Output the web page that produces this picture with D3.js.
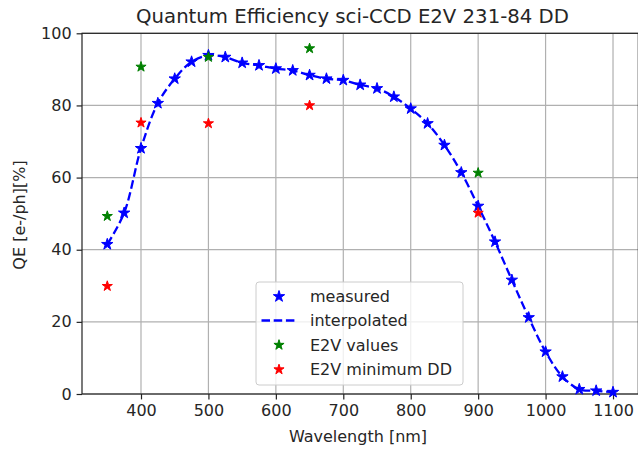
<!DOCTYPE html>
<html>
<head>
<meta charset="utf-8">
<script src="https://cdn.jsdelivr.net/npm/d3@7"></script>
<style>
  html, body { margin: 0; padding: 0; background: #fff; }
  svg { display: block; font-family: "DejaVu Sans", sans-serif; }
</style>
</head>
<body>
<svg id="chart" width="638" height="451"></svg>
<script>
const titleText = "Quantum Efficiency sci-CCD E2V 231-84 DD";
const xLabel = "Wavelength [nm]";
const yLabel = "QE [e-/ph][%]";

const measuredWl = [350, 375, 400, 425, 450, 475, 500, 525, 550, 575, 600, 625, 650, 675, 700, 725, 750, 775, 800, 825, 850, 875, 900, 925, 950, 975, 1000, 1025, 1050, 1075, 1100];
const measuredQE = [41.5, 50.2, 68.1, 80.6, 87.4, 92.1, 93.9, 93.4, 91.8, 91.1, 90.2, 89.7, 88.4, 87.4, 87.0, 85.7, 84.7, 82.4, 79.1, 75.0, 69.0, 61.4, 52.1, 42.2, 31.6, 21.2, 11.7, 4.8, 1.3, 0.9, 0.5];

const e2vWl = [350, 400, 500, 650, 900];
const e2vQE = [49.3, 90.7, 93.4, 95.8, 61.3];

const e2vMinWl = [350, 400, 500, 650, 900];
const e2vMinQE = [29.9, 75.2, 75.0, 80.0, 50.2];

const xTicks = [400, 500, 600, 700, 800, 900, 1000, 1100];
const yTicks = [0, 20, 40, 60, 80, 100];

const legendLabels = ["measured", "interpolated", "E2V values", "E2V minimum DD"];

const svg = d3.select("#chart");
const m = {left: 82, right: 638.3, top: 33.3, bottom: 394};

const x = d3.scaleLinear().domain([312.5, 1137.5]).range([m.left, m.right]);
const y = d3.scaleLinear().domain([0, 100]).range([m.bottom, m.top]);

// grid
const grid = svg.append("g");
grid.selectAll(".gx").data(xTicks).enter().append("line")
  .attr("x1", d => x(d)).attr("x2", d => x(d))
  .attr("y1", m.top).attr("y2", m.bottom)
  .attr("stroke", "#b0b0b0").attr("stroke-width", 1.2);
grid.selectAll(".gy").data(yTicks).enter().append("line")
  .attr("x1", m.left).attr("x2", m.right)
  .attr("y1", d => y(d)).attr("y2", d => y(d))
  .attr("stroke", "#b0b0b0").attr("stroke-width", 1.2);

// axes
const fs = 16;
const xAxis = svg.append("g").attr("transform", `translate(0,${m.bottom})`)
  .call(d3.axisBottom(x).tickValues(xTicks).tickFormat(d3.format("d")).tickSize(5.4).tickPadding(5).tickSizeOuter(0));
const yAxis = svg.append("g").attr("transform", `translate(${m.left},0)`)
  .call(d3.axisLeft(y).tickValues(yTicks).tickFormat(d3.format("d")).tickSize(5.4).tickPadding(5).tickSizeOuter(0));
[xAxis, yAxis].forEach(a => {
  a.select(".domain").remove();
  a.selectAll("line").attr("stroke", "#222").attr("stroke-width", 1.2);
  a.selectAll("text").attr("fill", "#262626").style("font-size", fs + "px").style("font-family", "DejaVu Sans");
});

// spines
svg.append("rect").attr("x", m.left).attr("y", m.top)
  .attr("width", m.right - m.left).attr("height", m.bottom - m.top)
  .attr("fill", "none").attr("stroke", "#222").attr("stroke-width", 1.2);

// interpolated line
const line = d3.line().x(d => x(d[0])).y(d => y(d[1])).curve(d3.curveCatmullRom.alpha(0.5));
const measured = measuredWl.map((w, i) => [w, measuredQE[i]]);
svg.append("path").datum(measured).attr("d", line)
  .attr("fill", "none").attr("stroke", "#0000ff").attr("stroke-width", 2.3)
  .attr("stroke-dasharray", "8.5,3.7");

const star = (size) => d3.symbol().type(d3.symbolStar).size(size);

function drawStars(wl, qe, color, size) {
  svg.append("g").selectAll("path").data(wl.map((w, i) => [w, qe[i]])).enter().append("path")
    .attr("transform", d => `translate(${x(d[0])},${y(d[1])})`)
    .attr("d", star(size)())
    .attr("fill", color).attr("stroke", color).attr("stroke-width", 1).attr("stroke-linejoin", "round");
}
drawStars(measuredWl, measuredQE, "#0000ff", 40);
drawStars(e2vWl, e2vQE, "#008000", 32);
drawStars(e2vMinWl, e2vMinQE, "#ff0000", 32);

// title & labels
svg.append("text").attr("x", 352.5).attr("y", 23).attr("text-anchor", "middle")
  .style("font-size", "19.7px").attr("fill", "#262626").text(titleText);
svg.append("text").attr("x", 358).attr("y", 442).attr("text-anchor", "middle")
  .style("font-size", fs + "px").attr("fill", "#262626").text(xLabel);
svg.append("text").attr("transform", `translate(25,215) rotate(-90)`).attr("text-anchor", "middle")
  .style("font-size", fs + "px").attr("fill", "#262626").text(yLabel);

// legend
const lg = svg.append("g");
lg.append("rect").attr("x", 256).attr("y", 282).attr("width", 207).attr("height", 103).attr("rx", 3)
  .attr("fill", "#fff").attr("fill-opacity", 0.8).attr("stroke", "#cccccc").attr("stroke-width", 1);
const rowsY = [296.5, 320.5, 345, 369.5];
const legColors = ["#0000ff", "#0000ff", "#008000", "#ff0000"];
legendLabels.forEach((lab, i) => {
  const yy = rowsY[i];
  if (i === 1) {
    lg.append("line").attr("x1", 261.5).attr("x2", 295.5).attr("y1", yy).attr("y2", yy)
      .attr("stroke", "#0000ff").attr("stroke-width", 2.3).attr("stroke-dasharray", "8.5,3.7");
  } else {
    lg.append("path").attr("transform", `translate(279,${yy})`)
      .attr("d", star(i === 0 ? 40 : 32)()).attr("fill", legColors[i]).attr("stroke", legColors[i]).attr("stroke-width", 1);
  }
  lg.append("text").attr("x", 310).attr("y", yy).attr("dy", "0.36em")
    .style("font-size", fs + "px").attr("fill", "#262626").text(lab);
});
</script>
</body>
</html>
